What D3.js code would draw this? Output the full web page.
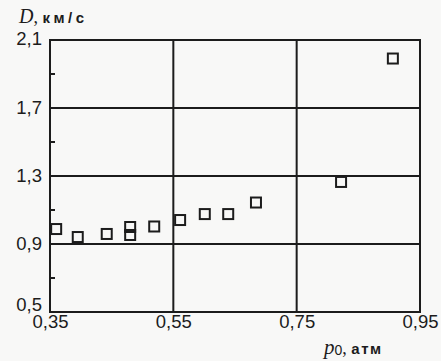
<!DOCTYPE html>
<html><head><meta charset="utf-8">
<script src="https://cdn.jsdelivr.net/npm/d3@7"></script>
<style>body{margin:0;background:#f8f8f7;} svg{display:block;}</style>
</head><body>
<svg id="c" width="441" height="361"></svg>
<script>
const pressure = [0.360, 0.395, 0.442, 0.480, 0.480, 0.519, 0.561, 0.601, 0.639, 0.684, 0.822, 0.906];
const velocity = [0.988, 0.941, 0.959, 1.000, 0.953, 1.003, 1.041, 1.076, 1.076, 1.144, 1.265, 1.991];
const xTicks = [0.35, 0.55, 0.75, 0.95];
const yTicks = [0.5, 0.9, 1.3, 1.7, 2.1];
const yMinor = [0.7, 1.1, 1.5, 1.9];

const svg = d3.select("#c");
const L = 50, R = 420, T = 40, B = 312;
const x = d3.scaleLinear().domain([0.35, 0.95]).range([L, R]);
const y = d3.scaleLinear().domain([0.5, 2.1]).range([B, T]);
const ink = "#1c1c1c";
const sans = "Liberation Sans, Arial, sans-serif";
const serif = "Liberation Serif, Times New Roman, serif";

// grid
svg.append("g").selectAll("line").data(xTicks.slice(1, -1)).join("line")
  .attr("x1", d => x(d)).attr("x2", d => x(d)).attr("y1", T).attr("y2", B)
  .attr("stroke", ink).attr("stroke-width", 2);
svg.append("g").selectAll("line").data(yTicks.slice(1, -1)).join("line")
  .attr("y1", d => y(d)).attr("y2", d => y(d)).attr("x1", L).attr("x2", R)
  .attr("stroke", ink).attr("stroke-width", 2);
// minor ticks
svg.append("g").selectAll("line").data(yMinor).join("line")
  .attr("y1", d => y(d)).attr("y2", d => y(d)).attr("x1", L).attr("x2", L + 5)
  .attr("stroke", ink).attr("stroke-width", 2);
// frame
svg.append("rect").attr("x", L).attr("y", T).attr("width", R - L).attr("height", B - T)
  .attr("fill", "none").attr("stroke", ink).attr("stroke-width", 2);

// axes labels via d3 axes
const xAxis = svg.append("g").attr("transform", `translate(0,${B})`)
  .call(d3.axisBottom(x).tickValues(xTicks).tickSize(0).tickPadding(3).tickFormat(d => d.toFixed(2).replace(".", ",")));
xAxis.select(".domain").remove();
xAxis.selectAll("text").attr("font-family", sans).attr("font-size", 18.5).attr("fill", ink);

const yAxis = svg.append("g").attr("transform", `translate(${L},0)`)
  .call(d3.axisLeft(y).tickValues(yTicks).tickSize(0).tickPadding(8).tickFormat(d => d.toFixed(1).replace(".", ",")));
yAxis.select(".domain").remove();
yAxis.selectAll("text").attr("font-family", sans).attr("font-size", 18.5).attr("fill", ink)
  .attr("dy", d => d === 0.5 ? "-0.1em" : (d === 2.1 ? "0.25em" : "0.32em"));

// points
const s = 10;
svg.append("g").selectAll("rect").data(pressure.map((p, i) => [p, velocity[i]])).join("rect")
  .attr("x", d => x(d[0]) - s / 2).attr("y", d => y(d[1]) - s / 2)
  .attr("width", s).attr("height", s)
  .attr("fill", "none").attr("stroke", ink).attr("stroke-width", 2);

// axis titles
const yt = svg.append("text").attr("x", 19).attr("y", 23).attr("fill", ink);
yt.append("tspan").attr("font-family", serif).attr("font-style", "italic").attr("font-size", 20).text("D");
yt.append("tspan").attr("font-family", serif).attr("font-size", 18).text(", ");
yt.append("tspan").attr("font-family", sans).attr("font-weight", "bold").attr("font-size", 15).attr("letter-spacing", 3.5).text("км/с");

const xt = svg.append("text").attr("x", 324).attr("y", 354).attr("fill", ink);
xt.append("tspan").attr("font-family", serif).attr("font-style", "italic").attr("font-size", 21).text("p");
xt.append("tspan").attr("font-family", sans).attr("font-size", 14).attr("dy", 1).text("0");
xt.append("tspan").attr("font-family", serif).attr("font-size", 18).attr("dy", -1).text(", ");
xt.append("tspan").attr("font-family", sans).attr("font-weight", "bold").attr("font-size", 15).attr("letter-spacing", 1.5).text("атм");
</script>
</body></html>
